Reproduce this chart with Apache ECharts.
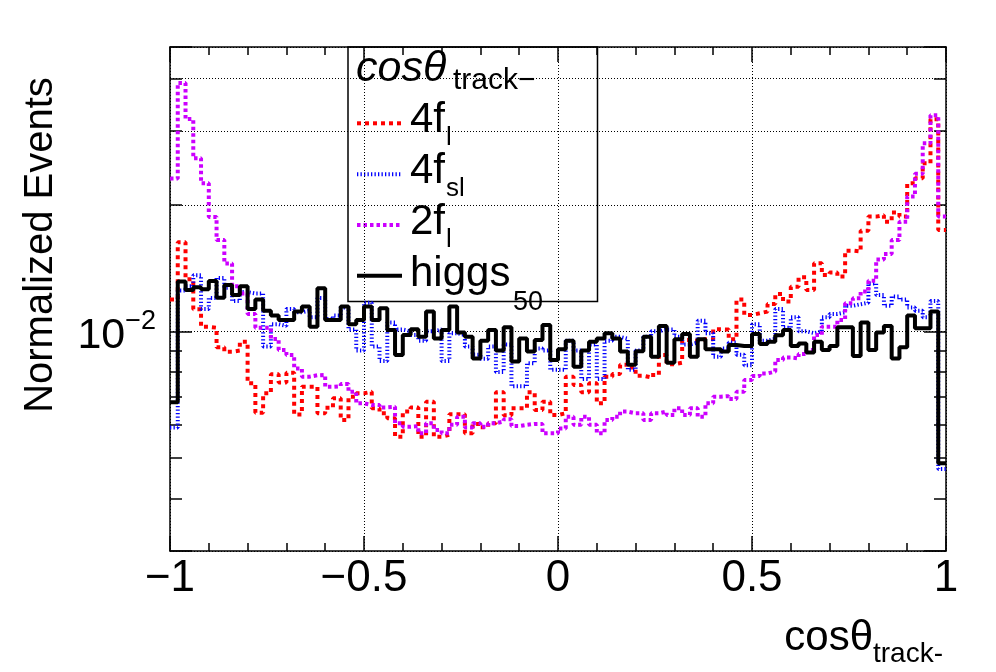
<!DOCTYPE html>
<html lang="en">
<head>
<meta charset="UTF-8">
<title>cos theta track-</title>
<script src="https://cdn.jsdelivr.net/npm/echarts@6/dist/echarts.min.js"></script>
<style>
    html, body, #main {
        margin: 0;
        padding: 0;
        width: 100%;
        height: 100%;
        background: #fff;
    }
</style>
</head>
<body>
<div id="main"></div>
<script>
    // histogram range: 100 bins on [-1, 1]
    const xMin = -1, xMax = 1;

    // 4f_l
    const fourFL = [
        0.0119, 0.0163, 0.0133, 0.01128, 0.01025, 0.0102, 0.00916, 0.00894, 0.0090, 0.00945,
        0.00752, 0.0064, 0.00712, 0.0079, 0.00755, 0.00797, 0.00634, 0.00738, 0.00738, 0.00638,
        0.00658, 0.00693, 0.00615, 0.00699, 0.00712, 0.00718, 0.00656, 0.00638, 0.00621, 0.00561,
        0.00644, 0.00659, 0.00561, 0.0068, 0.00561, 0.00567, 0.00635, 0.00635, 0.00572, 0.00602,
        0.00591, 0.00604, 0.00716, 0.00631, 0.00656, 0.00656, 0.00716, 0.0065, 0.0068, 0.00632,
        0.00638, 0.0078, 0.00745, 0.00716, 0.00752, 0.00674, 0.0078, 0.00791, 0.00832, 0.0082,
        0.00784, 0.00777, 0.00787, 0.00878, 0.00835, 0.00842, 0.00954, 0.0095, 0.00957, 0.00957,
        0.01011, 0.0101, 0.00957, 0.0119, 0.01094, 0.01104, 0.01114, 0.01162, 0.01227, 0.01177,
        0.01277, 0.01345, 0.01254, 0.01452, 0.01362, 0.0138, 0.0135, 0.01556, 0.01549, 0.01736,
        0.01875, 0.0189, 0.01824, 0.01917, 0.01875, 0.0225, 0.02313, 0.02512, 0.03197, 0.01743
    ];
    // 4f_sl
    const fourFSL = [
        0.0059, 0.0125, 0.0128, 0.0136, 0.0113, 0.0120, 0.0134, 0.0127, 0.0118, 0.0124,
        0.0123, 0.0123, 0.0092, 0.0104, 0.0103, 0.0113, 0.0111, 0.0112, 0.0108, 0.0120,
        0.0107, 0.0109, 0.0114, 0.0101, 0.0090, 0.0117, 0.0092, 0.0085, 0.0105, 0.0101,
        0.0100, 0.0098, 0.0095, 0.0100, 0.0101, 0.0085, 0.0099, 0.0098, 0.0092, 0.0088,
        0.0086, 0.0092, 0.0080, 0.0093, 0.0074, 0.0074, 0.0084, 0.0091, 0.0090, 0.0081,
        0.0081, 0.0095, 0.0090, 0.0077, 0.0093, 0.0077, 0.0095, 0.0097, 0.0096, 0.0081,
        0.0090, 0.0097, 0.0100, 0.0101, 0.0101, 0.0097, 0.0093, 0.0094, 0.0106, 0.0099,
        0.0087, 0.0091, 0.0094, 0.0088, 0.0083, 0.0104, 0.0095, 0.0096, 0.0113, 0.0102,
        0.0108, 0.0100, 0.0099, 0.0100, 0.0108, 0.0110, 0.0111, 0.0115, 0.0116, 0.0117,
        0.0130, 0.0122, 0.0115, 0.0121, 0.0119, 0.0114, 0.0112, 0.0108, 0.0118, 0.0047
    ];
    // 2f_l
    const twoFL = [
        0.0231, 0.0390, 0.0320, 0.0258, 0.0225, 0.0187, 0.0165, 0.0145, 0.0128, 0.0123,
        0.0110, 0.0102, 0.0102, 0.00959, 0.00903, 0.00878, 0.00816, 0.0078, 0.00786, 0.00787,
        0.00738, 0.0074, 0.00749, 0.00718, 0.00674, 0.00668, 0.00668, 0.00659, 0.00661, 0.00604,
        0.00593, 0.00595, 0.00572, 0.00604, 0.00582, 0.00572, 0.00599, 0.00626, 0.0059, 0.00604,
        0.00593, 0.00604, 0.0061, 0.00618, 0.00595, 0.00599, 0.00602, 0.00602, 0.00572, 0.00572,
        0.00587, 0.00626, 0.00599, 0.00626, 0.00599, 0.00572, 0.00615, 0.00626, 0.00644, 0.00638,
        0.00638, 0.00615, 0.00638, 0.00644, 0.00632, 0.00656, 0.00632, 0.00656, 0.00626, 0.00674,
        0.00699, 0.00701, 0.0069, 0.00718, 0.00766, 0.00783, 0.00794, 0.00802, 0.00855, 0.00866,
        0.00862, 0.00883, 0.00903, 0.0098, 0.01026, 0.01026, 0.01064, 0.01166, 0.01198, 0.01243,
        0.0132, 0.01483, 0.01528, 0.0165, 0.01824, 0.02093, 0.0237, 0.02803, 0.03268, 0.01875
    ];
    // higgs_50
    const higgs50 = [
        0.00678, 0.01313, 0.01254, 0.01273, 0.01259, 0.01318, 0.01202, 0.01289, 0.0122, 0.0128,
        0.0113, 0.0119, 0.0112, 0.0109, 0.01064, 0.01064, 0.01114, 0.01145, 0.01026, 0.01266,
        0.01064, 0.01064, 0.01145, 0.01039, 0.01064, 0.01145, 0.01064, 0.01134, 0.01007, 0.00878,
        0.0098, 0.01011, 0.00971, 0.01114, 0.00962, 0.01007, 0.01145, 0.00993, 0.00971, 0.00862,
        0.0095, 0.01007, 0.009, 0.01022, 0.00847, 0.00962, 0.00895, 0.00954, 0.01035, 0.00855,
        0.00906, 0.0095, 0.00824, 0.009, 0.00945, 0.00962, 0.00989, 0.00962, 0.00895, 0.00832,
        0.00897, 0.00971, 0.0087, 0.0103, 0.00842, 0.00957, 0.00985, 0.0087, 0.00957, 0.00906,
        0.00906, 0.00895, 0.00928, 0.00923, 0.00923, 0.00985, 0.00933, 0.00945, 0.00978, 0.01007,
        0.00923, 0.00936, 0.0089, 0.00945, 0.00903, 0.00923, 0.01022, 0.01022, 0.00873, 0.01049,
        0.00903, 0.00993, 0.0103, 0.00862, 0.00916, 0.0109, 0.01017, 0.01017, 0.01114, 0.00485
    ];

    // axis values
    const yMin = 0.003, yMax = 0.0475;
    const yMinorGrid = [0.004, 0.005, 0.006, 0.007, 0.008, 0.009, 0.02, 0.03, 0.04];

    const FONT = "'Liberation Sans', Arial, Helvetica, sans-serif";
    const RED = '#ff0000', BLUE = '#0000ff', VIOLET = '#cc00ff', BLACK = '#000000';
    const styles = {
        red: { color: RED, width: 4, type: [4, 4] },
        blue: { color: BLUE, width: 4, type: [1.3, 2.2] },
        violet: { color: VIOLET, width: 4, type: [3.5, 3] },
        black: { color: BLACK, width: 4, type: 'solid' }
    };

    // bin low edges + closing point so step:'end' draws each bin flat
    function histData(vals) {
        const w = (xMax - xMin) / vals.length;
        const pts = vals.map((v, i) => [xMin + i * w, v]);
        pts.push([xMax, vals[vals.length - 1]]);
        return pts;
    }

    const chart = echarts.init(document.getElementById('main'));

    // minor y grid lines + short ticks on both frame sides (log axis has none)
    const tickLen = 0.031;
    const gridMarks = [];
    yMinorGrid.forEach(v => {
        gridMarks.push({ yAxis: v, lineStyle: { color: '#000', width: 1, type: [1, 2] } });
        gridMarks.push([{ coord: [xMin, v], lineStyle: { color: '#000', width: 1.5, type: 'solid' } }, { coord: [xMin + tickLen, v] }]);
        gridMarks.push([{ coord: [xMax - tickLen, v], lineStyle: { color: '#000', width: 1.5, type: 'solid' } }, { coord: [xMax, v] }]);
    });

    const xAxisBase = {
        type: 'value',
        min: xMin,
        max: xMax,
        interval: 0.5,
        axisLine: { show: true, onZero: false, lineStyle: { color: '#000', width: 1.5 } },
        axisTick: { show: true, inside: true, length: 15, lineStyle: { color: '#000', width: 1.5 } },
        minorTick: { show: true, splitNumber: 5, length: 8, lineStyle: { color: '#000', width: 1.5 } },
        splitLine: { show: false }
    };
    const yAxisBase = {
        type: 'log',
        logBase: 10,
        min: yMin,
        max: yMax,
        axisLine: { show: true, onZero: false, lineStyle: { color: '#000', width: 1.5 } },
        axisTick: { show: true, inside: true, length: 22, lineStyle: { color: '#000', width: 1.5 } },
        minorTick: { show: false },
        splitLine: { show: false }
    };

    const option = {
        backgroundColor: '#fff',
        animation: false,
        grid: { left: 170, right: 50, top: 47, bottom: 121, containLabel: false, outerBoundsMode: 'none' },
        xAxis: [
            Object.assign({}, xAxisBase, {
                position: 'bottom',
                splitLine: { show: true, lineStyle: { color: '#000', width: 1, type: [1, 2] } },
                axisLabel: {
                    show: true,
                    margin: 6,
                    color: '#000',
                    fontFamily: FONT,
                    fontSize: 44,
                    showMinLabel: true,
                    showMaxLabel: true,
                    formatter: v => (v < 0 ? '\u2212' : '') + Math.abs(v)
                }
            }),
            Object.assign({}, xAxisBase, { position: 'top', axisLabel: { show: false } })
        ],
        yAxis: [
            Object.assign({}, yAxisBase, {
                position: 'left',
                splitLine: { show: true, lineStyle: { color: '#000', width: 1, type: [1, 2] } },
                axisLabel: {
                    show: true,
                    margin: 14,
                    color: '#000',
                    fontFamily: FONT,
                    showMinLabel: true,
                    showMaxLabel: true,
                    formatter: v => (Math.abs(Math.log10(v) + 2) < 1e-6 ? '{a|10}{b|\u22122}' : ''),
                    rich: {
                        a: { fontSize: 43, fontFamily: FONT, color: '#000', lineHeight: 43, padding: [10, 0, 0, 0] },
                        b: { fontSize: 27, fontFamily: FONT, color: '#000', lineHeight: 27, padding: [0, 0, 20, 0] }
                    }
                }
            }),
            Object.assign({}, yAxisBase, { position: 'right', axisLabel: { show: false } })
        ],
        series: [
            {
                name: '4f_l', type: 'line', step: 'end', symbol: 'none',
                data: histData(fourFL), lineStyle: styles.red,
                markLine: {
                    silent: true, z: 1, animation: false,
                    symbol: ['none', 'none'], label: { show: false },
                    data: gridMarks
                }
            },
            { name: '4f_sl', type: 'line', step: 'end', symbol: 'none', data: histData(fourFSL), lineStyle: styles.blue },
            { name: '2f_l', type: 'line', step: 'end', symbol: 'none', data: histData(twoFL), lineStyle: styles.violet },
            { name: 'higgs_50', type: 'line', step: 'end', symbol: 'none', data: histData(higgs50), lineStyle: styles.black }
        ],
        graphic: [
            // y axis title
            {
                type: 'text', x: 41, y: 245, rotation: Math.PI / 2, z: 50,
                style: { text: 'Normalized Events', fontSize: 40, fontFamily: FONT, fill: '#000', align: 'center', verticalAlign: 'middle' }
            },
            // x axis title
            {
                type: 'text', x: 873, y: 638, z: 50,
                style: { text: 'cos\u03b8', fontSize: 42, fontFamily: FONT, fill: '#000', align: 'right', verticalAlign: 'middle' }
            },
            {
                type: 'text', x: 943, y: 654, z: 50,
                style: { text: 'track-', fontSize: 28, fontFamily: FONT, fill: '#000', align: 'right', verticalAlign: 'middle' }
            },
            // legend box
            {
                type: 'group', z: 100,
                children: [
                    { type: 'rect', shape: { x: 348, y: 47, width: 249.5, height: 254.5 }, style: { fill: '#fff', stroke: '#000', lineWidth: 1.5 } },
                    { type: 'text', x: 356, y: 69, style: { text: 'cos\u03b8', fontSize: 43, fontStyle: 'italic', fontFamily: FONT, fill: '#000', verticalAlign: 'middle' } },
                    { type: 'text', x: 453, y: 81, style: { text: 'track\u2212', fontSize: 30, fontFamily: FONT, fill: '#000', verticalAlign: 'middle' } },

                    { type: 'line', shape: { x1: 357, y1: 123.3, x2: 402, y2: 123.3 }, style: { stroke: RED, lineWidth: 4, lineDash: [4, 4] } },
                    { type: 'text', x: 410, y: 120, style: { text: '4f', fontSize: 42, fontFamily: FONT, fill: '#000', verticalAlign: 'middle' } },
                    { type: 'text', x: 446, y: 138, style: { text: 'l', fontSize: 26, fontFamily: FONT, fill: '#000', verticalAlign: 'middle' } },

                    { type: 'line', shape: { x1: 357, y1: 174.3, x2: 402, y2: 174.3 }, style: { stroke: BLUE, lineWidth: 4, lineDash: [1.3, 2.2] } },
                    { type: 'text', x: 410, y: 171, style: { text: '4f', fontSize: 42, fontFamily: FONT, fill: '#000', verticalAlign: 'middle' } },
                    { type: 'text', x: 446, y: 189, style: { text: 'sl', fontSize: 26, fontFamily: FONT, fill: '#000', verticalAlign: 'middle' } },

                    { type: 'line', shape: { x1: 357, y1: 225, x2: 402, y2: 225 }, style: { stroke: VIOLET, lineWidth: 4, lineDash: [3.5, 3] } },
                    { type: 'text', x: 410, y: 222.5, style: { text: '2f', fontSize: 42, fontFamily: FONT, fill: '#000', verticalAlign: 'middle' } },
                    { type: 'text', x: 446, y: 239.5, style: { text: 'l', fontSize: 26, fontFamily: FONT, fill: '#000', verticalAlign: 'middle' } },

                    { type: 'line', shape: { x1: 357, y1: 275.7, x2: 402, y2: 275.7 }, style: { stroke: BLACK, lineWidth: 4 } },
                    { type: 'text', x: 410, y: 274, style: { text: 'higgs', fontSize: 42, fontFamily: FONT, fill: '#000', verticalAlign: 'middle' } },
                    { type: 'text', x: 513, y: 303, style: { text: '50', fontSize: 27, fontFamily: FONT, fill: '#000', verticalAlign: 'middle' } }
                ]
            }
        ]
    };

    chart.setOption(option);
    window.onresize = function () {
        chart.resize();
    };
</script>
</body>
</html>
